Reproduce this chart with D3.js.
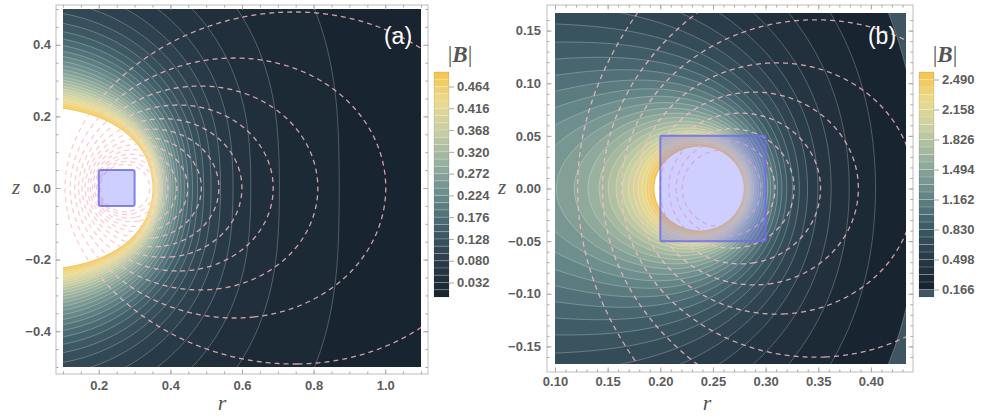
<!DOCTYPE html>
<html lang="en">
<head>
<meta charset="utf-8">
<title>|B| around a current loop</title>
<script src="https://cdn.jsdelivr.net/npm/d3@7"></script>
<style>
  body { margin: 0; background: #fff; }
  svg text { font-family: "Liberation Sans", Arial, sans-serif; }
  .tick text { font-size: 13px; font-weight: bold; fill: #5c5c5c; }
  .tick line { stroke: #a9a9a9; }
  .domain { display: none; }
</style>
</head>
<body>
<script>

// coil cross-section, drawn as the blue box
var coilR = [0.2, 0.3];
var coilZ = [-0.05, 0.05];

// the map is the field of a thin loop through the middle of the coil
var loopRadius = 0.25;
var fieldScale = 0.196;

// panel (a)
var rangeRA = [0.1, 1.1];
var rangeZA = [-0.5, 0.5];
var levelStepA = 0.016;
var levelCountA = 31;
var legendTicksA = [0.032, 0.080, 0.128, 0.176, 0.224, 0.272, 0.320, 0.368, 0.416, 0.464];
var rTicksA = [0.2, 0.4, 0.6, 0.8, 1.0];
var zTicksA = [-0.4, -0.2, 0.0, 0.2, 0.4];
// dashed field lines: flux-function contours, spacing and first/last index
var fluxStepA = 0.01255;
var fluxIndexA = [3, 15];

// panel (b)
var rangeRB = [0.1, 0.4333];
var rangeZB = [-0.1667, 0.1667];
var levelStepB = 0.083;
var levelCountB = 31;
var legendTicksB = [0.166, 0.498, 0.830, 1.162, 1.494, 1.826, 2.158, 2.490];
var rTicksB = [0.10, 0.15, 0.20, 0.25, 0.30, 0.35, 0.40];
var zTicksB = [-0.15, -0.10, -0.05, 0.00, 0.05, 0.10, 0.15];
var fluxStepB = 0.0256;
var fluxIndexB = [2, 10];

// colour function (dark slate -> sage -> gold)
var colorPos = [0, 0.15, 0.30, 0.45, 0.60, 0.75, 0.88, 1];
var colorStops = ["#18242f", "#2a3d4a", "#42606a", "#6a8b8b", "#98b09f", "#c8cfa3", "#e9da8e", "#f4c653"];
var lowColorB = "#3e5661";

var color = d3.scaleLinear().domain(colorPos).range(colorStops).interpolate(d3.interpolateRgb);

// complete elliptic integrals K(m), E(m) by the AGM
function ellipKE(m) {
	var a = 1, b = Math.sqrt(1 - m), c = Math.sqrt(m), p = 0.5, s = 0.5 * c * c;
	for (var i = 0; i < 30; i++) {
		c = (a - b) / 2;
		var na = (a + b) / 2;
		b = Math.sqrt(a * b);
		a = na;
		p *= 2;
		s += p * c * c;
		if (Math.abs(c) < 1e-14) break;
	}
	var K = Math.PI / (2 * a);
	return [K, K * (1 - s)];
}

// |B| and flux function of the loop at (r, z)
function loopField(r, z) {
	var a = loopRadius;
	var s = a * a + r * r + z * z;
	var al = Math.max(s - 2 * a * r, 1e-10);
	var be2 = s + 2 * a * r, be = Math.sqrt(be2);
	var m = 1 - al / be2;
	var ke = ellipKE(m);
	var bz = ((a * a - r * r - z * z) * ke[1] + al * ke[0]) / (2 * al * be);
	var br = z * (s * ke[1] - al * ke[0]) / (2 * al * be * r);
	var psi = Math.sqrt(a * r) / Math.sqrt(m) * ((1 - m / 2) * ke[0] - ke[1]);
	return [fieldScale * Math.hypot(bz, br), psi];
}

var svg = d3.select("body").append("svg")
	.attr("width", 981)
	.attr("height", 419);

function drawPanel(p) {
	var sx = d3.scaleLinear().domain(p.rangeR).range([p.plot[0], p.plot[2]]);
	var sy = d3.scaleLinear().domain(p.rangeZ).range([p.plot[3], p.plot[1]]);

	// sample field on a pixel grid a little larger than the plot
	var gx0 = p.plot[0] - 3, gy0 = p.plot[1] - 3;
	var nx = Math.round(p.plot[2] - p.plot[0]) + 7;
	var ny = Math.round(p.plot[3] - p.plot[1]) + 7;
	var bVals = new Float64Array(nx * ny), psiVals = new Float64Array(nx * ny);
	for (var j = 0; j < ny; j++) {
		for (var i = 0; i < nx; i++) {
			var f = loopField(sx.invert(gx0 + i), sy.invert(gy0 + j));
			bVals[j * nx + i] = f[0];
			psiVals[j * nx + i] = f[1];
		}
	}

	var path = d3.geoPath(d3.geoTransform({
		point: function(x, y) { this.stream.point(gx0 + x - 0.5, gy0 + y - 0.5); }
	}));

	svg.append("clipPath").attr("id", "clip" + p.id)
		.append("rect")
		.attr("x", p.plot[0]).attr("y", p.plot[1])
		.attr("width", p.plot[2] - p.plot[0]).attr("height", p.plot[3] - p.plot[1]);

	var g = svg.append("g").attr("clip-path", "url(#clip" + p.id + ")");

	var levels = d3.range(1, p.levelCount + 1).map(function(k) { return +(k * p.levelStep).toFixed(5); });
	var bands = d3.contours().size([nx, ny]).thresholds(levels)(bVals);

	g.append("rect")
		.attr("x", p.plot[0]).attr("y", p.plot[1])
		.attr("width", p.plot[2] - p.plot[0]).attr("height", p.plot[3] - p.plot[1])
		.attr("fill", p.bandColor(0));

	g.selectAll("path.band")
		.data(bands)
		.enter()
		.append("path")
		.attr("class", "band")
		.attr("d", path)
		.attr("fill", function(d, i) { return i === levels.length - 1 ? "#fff" : p.bandColor(i + 1); });

	g.selectAll("path.iso")
		.data(bands.slice(0, levels.length - 1))
		.enter()
		.append("path")
		.attr("class", "iso")
		.attr("d", path)
		.attr("fill", "none")
		.attr("stroke", "rgba(255,255,255,0.28)")
		.attr("stroke-width", 0.9);

	// field lines = contours of the flux function
	var psiLevels = d3.range(p.fluxIndex[0], p.fluxIndex[1] + 1).map(function(k) { return k * p.fluxStep; });
	var lines = d3.contours().size([nx, ny]).thresholds(psiLevels)(psiVals);

	g.selectAll("path.fieldline")
		.data(lines)
		.enter()
		.append("path")
		.attr("class", "fieldline")
		.attr("d", path)
		.attr("fill", "none")
		.attr("stroke", "rgb(255,190,200)")
		.attr("stroke-opacity", 0.8)
		.attr("stroke-width", 1.3)
		.attr("stroke-dasharray", "5,4");

	// coil box
	g.append("rect")
		.attr("x", sx(coilR[0])).attr("y", sy(coilZ[1]))
		.attr("width", sx(coilR[1]) - sx(coilR[0]))
		.attr("height", sy(coilZ[0]) - sy(coilZ[1]))
		.attr("rx", 2)
		.attr("fill", "rgba(110,110,255,0.33)")
		.attr("stroke", "#6f6fe6")
		.attr("stroke-opacity", 0.85)
		.attr("stroke-width", 2);

	g.append("text")
		.attr("x", p.tag[0]).attr("y", p.tag[1])
		.attr("text-anchor", "middle")
		.attr("font-size", "23px")
		.attr("fill", "#fff")
		.text(p.tagText);

	// frame
	var fr = p.frame;
	svg.append("rect")
		.attr("x", fr[0]).attr("y", fr[1])
		.attr("width", fr[2] - fr[0]).attr("height", fr[3] - fr[1])
		.attr("fill", "none")
		.attr("stroke", "#bdbdbd")
		.attr("stroke-width", 1);

	var fmt = d3.format(p.fmt);
	var axes = [
		[d3.axisBottom(sx).tickValues(p.rTicks).tickFormat(fmt).tickPadding(p.padX), "translate(0," + fr[3] + ")"],
		[d3.axisBottom(sx).tickValues(p.rMinor).tickFormat(""), "translate(0," + fr[3] + ")", 1],
		[d3.axisTop(sx).tickValues(p.rTicks).tickFormat(""), "translate(0," + fr[1] + ")"],
		[d3.axisTop(sx).tickValues(p.rMinor).tickFormat(""), "translate(0," + fr[1] + ")", 1],
		[d3.axisLeft(sy).tickValues(p.zTicks).tickFormat(fmt).tickPadding(p.padY), "translate(" + fr[0] + ",0)"],
		[d3.axisLeft(sy).tickValues(p.zMinor).tickFormat(""), "translate(" + fr[0] + ",0)", 1],
		[d3.axisRight(sy).tickValues(p.zTicks).tickFormat(""), "translate(" + fr[2] + ",0)"],
		[d3.axisRight(sy).tickValues(p.zMinor).tickFormat(""), "translate(" + fr[2] + ",0)", 1]
	];
	axes.forEach(function(a) {
		a[0].tickSizeInner(a[2] ? -2.6 : -4.6).tickSizeOuter(0);
		svg.append("g").attr("transform", a[1]).call(a[0]);
	});

	svg.append("text")
		.attr("x", p.rLabel[0]).attr("y", p.rLabel[1])
		.attr("text-anchor", "middle")
		.style("font-family", "'Liberation Serif', 'DejaVu Serif', serif")
		.style("font-style", "italic")
		.attr("font-size", "22px")
		.attr("fill", "#555")
		.text("r");

	svg.append("text")
		.attr("x", p.zLabel[0]).attr("y", p.zLabel[1])
		.attr("text-anchor", "middle")
		.style("font-family", "'Liberation Serif', 'DejaVu Serif', serif")
		.style("font-style", "italic")
		.attr("font-size", "21px")
		.attr("fill", "#555")
		.text("z");

	// bar legend
	var lb = p.legend;
	var ly = d3.scaleLinear().domain(p.legendRange).range([lb.bottom, lb.top]);
	var lg = svg.append("g");
	var bandIdx = d3.range(p.legendFirstBand, p.levelCount);
	lg.selectAll("rect.lband")
		.data(bandIdx)
		.enter()
		.append("rect")
		.attr("class", "lband")
		.attr("x", lb.x)
		.attr("width", lb.w)
		.attr("y", function(k) { return ly(Math.min((k + 1) * p.levelStep, p.legendRange[1])); })
		.attr("height", function(k) {
			var lo = Math.max(k * p.levelStep, p.legendRange[0]);
			var hi = Math.min((k + 1) * p.levelStep, p.legendRange[1]);
			return ly(lo) - ly(hi);
		})
		.attr("fill", function(k) { return p.bandColor(k); });

	lg.selectAll("line.lsep")
		.data(bandIdx.slice(1))
		.enter()
		.append("line")
		.attr("class", "lsep")
		.attr("x1", lb.x).attr("x2", lb.x + lb.w)
		.attr("y1", function(k) { return ly(k * p.levelStep); })
		.attr("y2", function(k) { return ly(k * p.levelStep); })
		.attr("stroke", "rgba(255,255,255,0.3)")
		.attr("stroke-width", 0.8);

	lg.append("rect")
		.attr("x", lb.x).attr("y", lb.top)
		.attr("width", lb.w).attr("height", lb.bottom - lb.top)
		.attr("fill", "none")
		.attr("stroke", "rgba(0,0,0,0.12)")
		.attr("stroke-width", 0.8);

	lg.append("g")
		.attr("transform", "translate(" + (lb.x + lb.w) + ",0)")
		.call(d3.axisRight(ly).tickValues(p.legendTicks).tickFormat(d3.format(".3f"))
			.tickSizeInner(5).tickSizeOuter(0).tickPadding(3));

	var title = lg.append("text")
		.attr("x", lb.titleX).attr("y", lb.titleY)
		.attr("text-anchor", "middle")
		.style("font-family", "'Liberation Serif', 'DejaVu Serif', serif")
		.attr("font-size", "23px")
		.attr("fill", "#555");
	title.append("tspan").text("|");
	title.append("tspan").attr("font-weight", "bold").attr("font-style", "italic").text("B");
	title.append("tspan").text("|");
}

drawPanel({
	id: "a",
	rangeR: rangeRA, rangeZ: rangeZA,
	plot: [63, 9, 421, 367],
	frame: [56, 5, 428, 374],
	levelStep: levelStepA, levelCount: levelCountA,
	bandColor: function(k) { return color(k / (levelCountA - 1)); },
	fluxStep: fluxStepA, fluxIndex: fluxIndexA,
	rTicks: rTicksA, zTicks: zTicksA,
	rMinor: d3.range(0.1, 1.1 + 1e-9, 0.05), zMinor: d3.range(-0.5, 0.5 + 1e-9, 0.05),
	fmt: ".1f", padX: 7, padY: 5,
	tag: [398, 44], tagText: "(a)",
	rLabel: [222, 410], zLabel: [16, 194],
	legend: { x: 434, w: 15, top: 72, bottom: 297, titleX: 460, titleY: 62 },
	legendRange: [0, levelStepA * levelCountA], legendFirstBand: 0,
	legendTicks: legendTicksA
});

drawPanel({
	id: "b",
	rangeR: rangeRB, rangeZ: rangeZB,
	plot: [555, 13, 906, 364],
	frame: [547, 5, 913, 372],
	levelStep: levelStepB, levelCount: levelCountB,
	bandColor: function(k) { return k < 2 ? lowColorB : color((k - 2) / (levelCountB - 3)); },
	fluxStep: fluxStepB, fluxIndex: fluxIndexB,
	rTicks: rTicksB, zTicks: zTicksB,
	rMinor: d3.range(0.10, 0.4333, 0.01), zMinor: d3.range(-0.16, 0.16 + 1e-9, 0.01),
	fmt: ".2f", padX: 5, padY: 6,
	tag: [882, 44], tagText: "(b)",
	rLabel: [707, 410], zLabel: [502, 194],
	legend: { x: 919, w: 15, top: 72, bottom: 297, titleX: 945, titleY: 62 },
	legendRange: [levelStepB, levelStepB * levelCountB], legendFirstBand: 1,
	legendTicks: legendTicksB
});

</script>
</body>
</html>
